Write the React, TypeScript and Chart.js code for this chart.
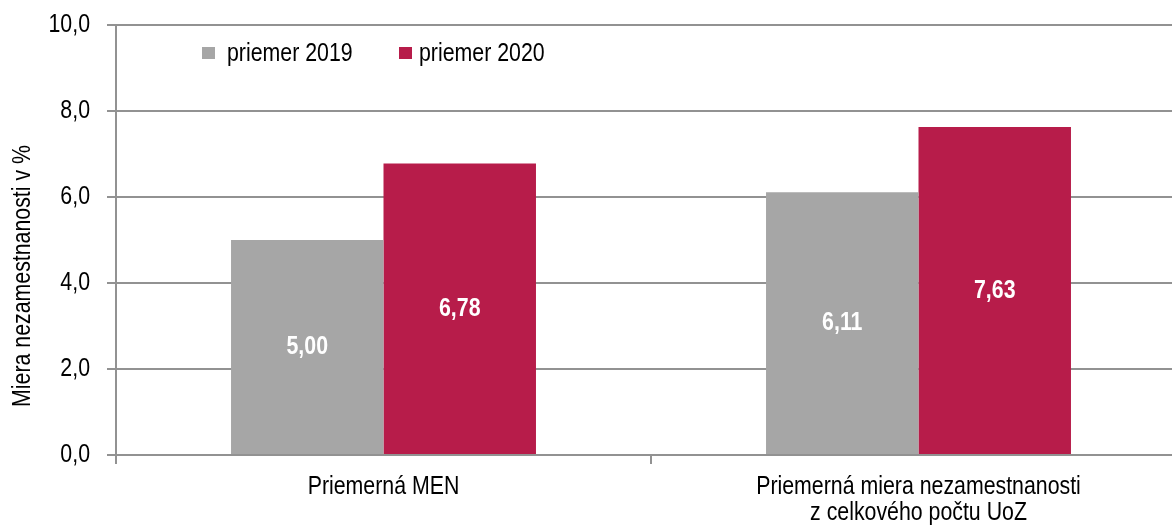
import React, { useEffect, useRef } from "react";
import { Chart, registerables } from "chart.js";

Chart.register(...registerables);

const categories: string[][] = [
  ["Priemerná MEN"],
  ["Priemerná miera nezamestnanosti", "z celkového počtu UoZ"],
];
const seriesNames = ["priemer 2019", "priemer 2020"];
const values2019 = [5.0, 6.11];
const values2020 = [6.78, 7.63];
const yAxisTitle = "Miera nezamestnanosti v %";
const yMin = 0;
const yMax = 10;
const yStep = 2;

const FONT = "'Liberation Sans', Arial, sans-serif";
const NARROW = 0.82; // emulate Arial Narrow by horizontal compression
const GRAY = "#A6A6A6";
const RED = "#B71C4A";
const GRID = "#929292";

const fmt = (v: number, d: number) => v.toFixed(d).replace(".", ",");

function narrowText(
  ctx: CanvasRenderingContext2D,
  text: string,
  x: number,
  y: number,
  align: CanvasTextAlign,
  font: string,
  color: string,
  rotate = 0
) {
  ctx.save();
  ctx.translate(x, y);
  if (rotate) ctx.rotate(rotate);
  ctx.scale(NARROW, 1);
  ctx.font = font;
  ctx.fillStyle = color;
  ctx.textAlign = align;
  ctx.textBaseline = "middle";
  ctx.fillText(text, 0, 0);
  ctx.restore();
}

const overlayPlugin = {
  id: "overlay",
  afterDraw(chart: any) {
    const ctx = chart.ctx as CanvasRenderingContext2D;
    const area = chart.chartArea;
    const xs = chart.scales.x;
    const ys = chart.scales.y;
    const regular = `26px ${FONT}`;
    const bold = `bold 26px ${FONT}`;

    // data labels
    chart.data.datasets.forEach((ds: any, i: number) => {
      const meta = chart.getDatasetMeta(i);
      meta.data.forEach((el: any, j: number) => {
        narrowText(ctx, fmt(ds.data[j], 2), el.x, (el.y + el.base) / 2, "center", bold, "#FFFFFF");
      });
    });

    // y tick labels
    ys.ticks.forEach((t: any) => {
      narrowText(ctx, fmt(t.value, 1), area.left - 26, ys.getPixelForValue(t.value), "right", regular, "#000000");
    });

    // x tick labels
    categories.forEach((lines, i) => {
      const x = xs.getPixelForValue(i);
      lines.forEach((line, k) => {
        narrowText(ctx, line, x, area.bottom + 32 + k * 26, "center", regular, "#000000");
      });
    });

    // legend
    const itemOffsets = [86, 283];
    const textGaps = [25, 20];
    chart.data.datasets.forEach((ds: any, i: number) => {
      const bx = area.left + itemOffsets[i];
      ctx.fillStyle = ds.backgroundColor;
      ctx.fillRect(bx, area.top + 22, 13, 12);
      narrowText(ctx, ds.label, bx + textGaps[i], area.top + 29, "left", regular, "#000000");
    });

    // y axis title
    narrowText(ctx, yAxisTitle, 23, 276, "center", regular, "#000000", -Math.PI / 2);
  },
};

export default function App() {
  const ref = useRef<HTMLCanvasElement | null>(null);
  useEffect(() => {
    if (!ref.current) return;
    const chart = new Chart(ref.current, {
      type: "bar",
      data: {
        labels: categories.map((l) => l.join(" ")),
        datasets: [
          { label: seriesNames[0], data: values2019, backgroundColor: GRAY },
          { label: seriesNames[1], data: values2020, backgroundColor: RED },
        ],
      },
      options: {
        animation: false,
        responsive: false,
        devicePixelRatio: 1,
        layout: { padding: { top: 25, right: 0, left: 0, bottom: 0 } },
        datasets: {
          bar: { categoryPercentage: 0.57, barPercentage: 1.0 },
        },
        plugins: {
          legend: { display: false },
          tooltip: { enabled: false },
        },
        scales: {
          x: {
            offset: true,
            grid: {
              offset: true,
              drawOnChartArea: false,
              drawTicks: true,
              tickLength: 9,
              color: GRID,
              lineWidth: 2,
            },
            border: { display: true, color: GRID, width: 2 },
            ticks: { display: false },
            afterFit(scale: any) {
              scale.height = 72;
            },
          },
          y: {
            min: yMin,
            max: yMax,
            grid: {
              color: GRID,
              lineWidth: 2,
              drawTicks: true,
              tickLength: 9,
            },
            border: { display: true, color: GRID, width: 2 },
            ticks: { display: false, stepSize: yStep },
            afterFit(scale: any) {
              scale.width = 116;
            },
          },
        },
      },
      plugins: [overlayPlugin],
    });
    return () => chart.destroy();
  }, []);
  return (
    <div
      style={{
        position: "absolute",
        left: 0,
        top: 0,
        width: 1172,
        height: 527,
        overflow: "hidden",
        background: "#FFFFFF",
      }}
    >
      <canvas ref={ref} width={1186} height={527} style={{ display: "block" }} />
    </div>
  );
}
